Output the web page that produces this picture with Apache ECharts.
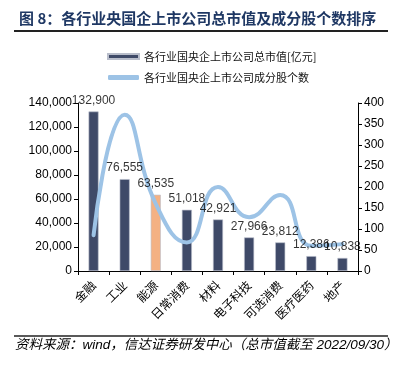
<!DOCTYPE html>
<html>
<head>
<meta charset="utf-8">
<script src="https://cdn.jsdelivr.net/npm/echarts@6/dist/echarts.min.js"></script>
<style>
  html, body { margin: 0; padding: 0; background: #fff; }
  #chart { width: 401px; height: 365px; }
</style>
</head>
<body>
<div id="chart"></div>
<script>
// 行业分类
var categories = ['金融', '工业', '能源', '日常消费', '材料', '电子科技', '可选消费', '医疗医药', '地产'];
// 总市值（亿元）
var marketValue = [132900, 76555, 63535, 51018, 42921, 27966, 23812, 12386, 10838];
// 成分股个数
var stockCount = [85, 372, 160, 68, 200, 128, 181, 60, 64];
// 高亮的行业
var highlightName = '能源';

var barName = '各行业国央企上市公司总市值[亿元]';
var lineName = '各行业国央企上市公司成分股个数';

var FONT = 'Liberation Sans, Arial, Noto Sans CJK SC, sans-serif';

var chart = echarts.init(document.getElementById('chart'));

var barData = marketValue.map(function (v, i) {
    return {
        value: v,
        itemStyle: { color: categories[i] === highlightName ? '#F4B183' : '#3F4A68' }
    };
});

var option = {
    animation: false,
    backgroundColor: '#fff',
    textStyle: { fontFamily: FONT },
    title: {
        text: '图 8：各行业央国企上市公司总市值及成分股个数排序',
        left: 14,
        top: 6,
        textStyle: {
            fontSize: 15,
            fontWeight: 'bold',
            color: '#1F3864',
            fontFamily: 'Noto Sans CJK SC, sans-serif'
        }
    },
    graphic: [
        { type: 'line', shape: { x1: 14, y1: 31, x2: 388, y2: 31 }, style: { stroke: '#222', lineWidth: 2 } },
        { type: 'line', shape: { x1: 14, y1: 336, x2: 388, y2: 336 }, style: { stroke: '#222', lineWidth: 1.5 } },
        {
            type: 'text', left: 15, top: 338,
            style: {
                text: '资料来源：wind，信达证券研发中心（总市值截至 2022/09/30）',
                font: 'italic 13.5px Liberation Sans, Noto Sans CJK SC, sans-serif',
                fill: '#000'
            }
        }
    ],
    legend: {
        orient: 'vertical',
        left: 102,
        top: 46,
        itemGap: 10,
        itemWidth: 31,
        itemHeight: 5,
        textStyle: { fontSize: 11, color: '#111', fontFamily: 'Noto Sans CJK SC, sans-serif' },
        data: [
            { name: barName, icon: 'rect' },
            { name: lineName, icon: 'roundRect' }
        ]
    },
    grid: { left: 78, right: 43, top: 103, bottom: 94, containLabel: false },
    xAxis: {
        type: 'category',
        data: categories,
        axisLine: { lineStyle: { color: '#000', width: 1 } },
        axisTick: { show: true, length: 4, lineStyle: { color: '#000' } },
        axisLabel: {
            rotate: 45,
            fontSize: 12,
            color: '#000',
            margin: 12,
            interval: 0,
            fontFamily: 'Noto Sans CJK SC, sans-serif'
        }
    },
    yAxis: [
        {
            type: 'value',
            min: 0, max: 140000, interval: 20000,
            splitLine: { show: false },
            axisLine: { show: true, lineStyle: { color: '#000' } },
            axisTick: { show: true, length: 4, lineStyle: { color: '#000' } },
            axisLabel: {
                fontSize: 12, color: '#000', margin: 6,
                formatter: function (v) { return v.toLocaleString('en-US'); }
            }
        },
        {
            type: 'value',
            min: 0, max: 400, interval: 50,
            position: 'right',
            splitLine: { show: false },
            axisLine: { show: true, lineStyle: { color: '#000' } },
            axisTick: { show: true, length: 4, lineStyle: { color: '#000' } },
            axisLabel: { fontSize: 12, color: '#000', margin: 6 }
        }
    ],
    series: [
        {
            name: barName,
            type: 'bar',
            data: barData,
            barWidth: 10,
            z: 2,
            itemStyle: { color: '#3F4A68', borderColor: '#B9BECB', borderWidth: 0.6 }
        },
        {
            name: lineName,
            type: 'line',
            yAxisIndex: 1,
            data: stockCount,
            smooth: 0.5,
            symbol: 'none',
            z: 3,
            lineStyle: { color: '#9DC3E6', width: 4, cap: 'round' },
            itemStyle: { color: '#9DC3E6' }
        },
        {
            // 柱顶数值标签，放在折线之上
            name: 'labels',
            type: 'scatter',
            data: marketValue,
            symbolSize: 0,
            z: 5,
            silent: true,
            label: {
                show: true,
                position: 'top',
                distance: 5,
                fontSize: 12,
                color: '#000',
                formatter: function (p) { return p.value.toLocaleString('en-US'); }
            }
        }
    ]
};

chart.setOption(option, true);
</script>
</body>
</html>
